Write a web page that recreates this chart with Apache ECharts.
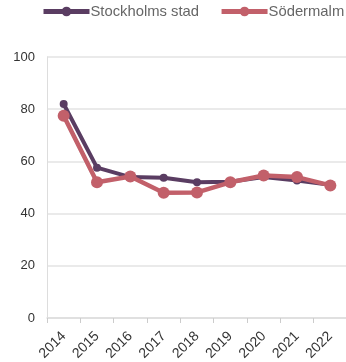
<!DOCTYPE html>
<html>
<head>
<meta charset="utf-8">
<script src="https://cdn.jsdelivr.net/npm/echarts@6/dist/echarts.min.js"></script>
<style>
  html, body { margin: 0; padding: 0; background: #fff; }
  #chart { width: 346px; height: 362px; }
</style>
</head>
<body>
<div id="chart"></div>
<script>
// Years shown along the x axis
const years = ['2014', '2015', '2016', '2017', '2018', '2019', '2020', '2021', '2022'];
// Share (%) per year
const stockholmsStad = [82, 57.6, 54, 53.7, 52, 52.2, 54, 52.7, 51];
const sodermalm = [77.5, 52, 54.2, 48, 48.1, 52, 54.6, 54, 50.8];
// Value-axis ticks
const yTicks = [0, 20, 40, 60, 80, 100];

const chart = echarts.init(document.getElementById('chart'), null, { renderer: 'canvas' });

chart.setOption({
  animation: false,
  textStyle: { fontFamily: 'Liberation Sans, Arial, sans-serif' },
  legend: {
    top: 4,
    left: 41,
    width: 400,
    padding: 0,
    itemGap: 20,
    itemWidth: 46,
    itemHeight: 12,
    lineStyle: { width: 5 },
    textStyle: { color: '#666', fontSize: 14.8, padding: [0, 0, 0, -4] },
    data: ['Stockholms stad', 'Södermalm']
  },
  grid: {
    left: 47, right: -1, top: 57, bottom: 44,
    containLabel: false,
    outerBoundsMode: 'none'
  },
  xAxis: {
    type: 'category',
    data: years,
    boundaryGap: true,
    axisLine: { lineStyle: { color: '#ddd', width: 1.5 } },
    axisTick: { show: true, alignWithLabel: false, length: 5, lineStyle: { color: '#ccc' } },
    axisLabel: { color: '#333', fontSize: 14, rotate: 45, margin: 16, interval: 0 }
  },
  yAxis: {
    type: 'value',
    min: yTicks[0],
    max: yTicks[yTicks.length - 1],
    interval: 20,
    axisLine: { show: true, lineStyle: { color: '#ddd' } },
    axisTick: { show: false },
    axisLabel: { color: '#333', fontSize: 13, margin: 12 },
    splitLine: { lineStyle: { color: '#e3e3e3', width: 1.5 } }
  },
  series: [
    {
      name: 'Stockholms stad',
      type: 'line',
      data: stockholmsStad,
      color: '#5a3d62',
      symbol: 'circle',
      symbolSize: 8,
      lineStyle: { width: 4 },
      z: 2
    },
    {
      name: 'Södermalm',
      type: 'line',
      data: sodermalm,
      color: '#c2606a',
      symbol: 'circle',
      symbolSize: 12,
      lineStyle: { width: 4.5 },
      z: 3
    }
  ]
});
</script>
</body>
</html>
